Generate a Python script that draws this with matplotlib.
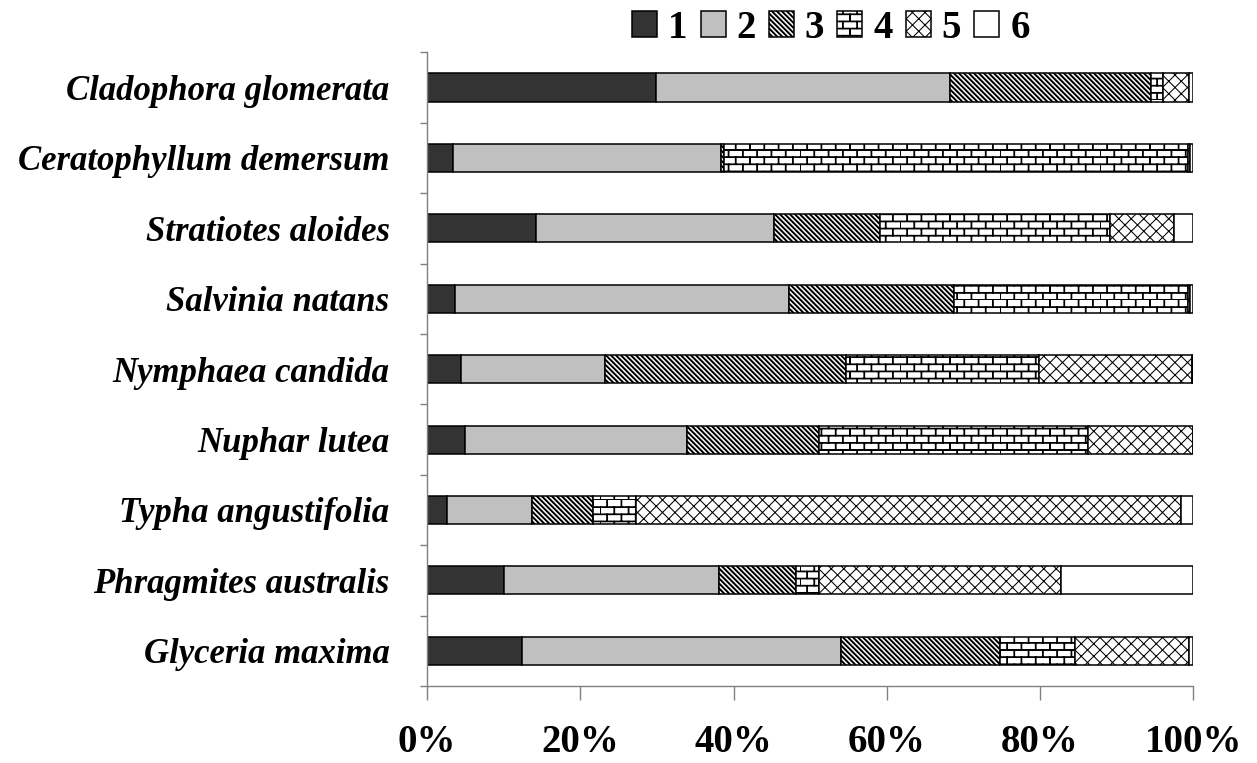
import warnings
import numpy as np
import matplotlib
matplotlib.use("Agg")
import matplotlib.pyplot as plt
import matplotlib.hatch as mhatch
from matplotlib.path import Path
from matplotlib.patches import Patch

warnings.filterwarnings("ignore")

species = [
    "Cladophora glomerata",
    "Ceratophyllum demersum",
    "Stratiotes aloides",
    "Salvinia natans",
    "Nymphaea candida",
    "Nuphar lutea",
    "Typha angustifolia",
    "Phragmites australis",
    "Glyceria maxima",
]
groups = ["1", "2", "3", "4", "5", "6"]

g1 = [29.9, 3.4, 14.2, 3.65, 4.4, 5.0, 2.6, 10.0, 12.35]
g2 = [38.35, 35.0, 31.1, 43.65, 18.8, 28.9, 11.1, 28.1, 41.65]
g3 = [26.25, 0.3, 13.8, 21.5, 31.5, 17.2, 7.9, 10.0, 20.8]
g4 = [1.6, 60.6, 30.0, 30.5, 25.2, 35.2, 5.7, 3.1, 9.8]
g5 = [3.4, 0.3, 8.4, 0.3, 19.9, 13.7, 71.05, 31.5, 14.8]
g6 = [0.5, 0.4, 2.5, 0.4, 0.2, 0.0, 1.65, 17.3, 0.6]
series = [g1, g2, g3, g4, g5, g6]

xticks = [0, 20, 40, 60, 80, 100]
xticklabels = ["0%", "20%", "40%", "60%", "80%", "100%"]

MOVETO, LINETO, CLOSEPOLY = Path.MOVETO, Path.LINETO, Path.CLOSEPOLY
RECT_CODES = [MOVETO, LINETO, LINETO, LINETO, CLOSEPOLY]


def _rect(x0, y0, x1, y1):
    return [(x0, y0), (x1, y0), (x1, y1), (x0, y1), (x0, y0)]


class BrickHatch(mhatch.HatchPatternBase):
    """Brick-wall hatch drawn as thin filled bars, selected by 'b'."""

    def __init__(self, hatch, density):
        on = "b" in hatch
        self.rows = 14 if on else 0
        self.cols = 7
        self.t = 0.007
        self.num_vertices = 5 * (self.rows + self.rows * self.cols)

    def set_vertices_and_codes(self, vertices, codes):
        k = 0
        t = self.t
        for i in range(self.rows):
            y0 = i / self.rows
            y1 = (i + 1) / self.rows
            vertices[k:k + 5] = _rect(-0.05, y0 - t / 2, 1.05, y0 + t / 2)
            codes[k:k + 5] = RECT_CODES
            k += 5
            off = 0.5 * (i % 2)
            for j in range(self.cols):
                x = (j + off) / self.cols
                vertices[k:k + 5] = _rect(x - t / 2, y0, x + t / 2, y1)
                codes[k:k + 5] = RECT_CODES
                k += 5


class StripeHatch(mhatch.HatchPatternBase):
    """Dense filled back-slash stripes, selected by 'd'."""

    def __init__(self, hatch, density):
        on = "d" in hatch
        self.n = 20
        self.w = 0.013
        self.ks = list(range(-1, 2 * self.n + 2)) if on else []
        self.num_vertices = 5 * len(self.ks)

    def set_vertices_and_codes(self, vertices, codes):
        for i, k in enumerate(self.ks):
            c = k / self.n
            x0 = c - 1.1
            x1 = c + 0.1
            pts = [(x0, c - x0), (x1, c - x1), (x1 + self.w, c - x1),
                   (x0 + self.w, c - x0), (x0, c - x0)]
            vertices[5 * i:5 * i + 5] = pts
            codes[5 * i:5 * i + 5] = RECT_CODES


class DiamondHatch(mhatch.HatchPatternBase):
    """Fine diagonal cross-hatch, selected by 'k'."""

    def __init__(self, hatch, density):
        on = "k" in hatch
        self.n = 8
        self.up = list(range(0, 2 * self.n + 1)) if on else []
        self.dn = list(range(-self.n, self.n + 1)) if on else []
        self.num_vertices = 2 * (len(self.up) + len(self.dn))

    def set_vertices_and_codes(self, vertices, codes):
        i = 0
        for k in self.up:
            c = k / self.n
            vertices[i] = (c - 1.1, 1.1)
            vertices[i + 1] = (c + 0.1, -0.1)
            codes[i] = MOVETO
            codes[i + 1] = LINETO
            i += 2
        for k in self.dn:
            c = k / self.n
            vertices[i] = (c - 0.1, -0.1)
            vertices[i + 1] = (c + 1.1, 1.1)
            codes[i] = MOVETO
            codes[i + 1] = LINETO
            i += 2


mhatch._hatch_types.extend([BrickHatch, StripeHatch, DiamondHatch])

plt.rcParams["hatch.linewidth"] = 0.75
plt.rcParams["font.family"] = ["Liberation Serif", "DejaVu Serif"]

colors = ["#333333", "#c0c0c0", "white", "white", "white", "white"]
hatches = [None, None, "d", "b", "k", None]

fig = plt.figure(figsize=(12.57, 7.63), dpi=100)
ax = fig.add_axes([0.3397, 0.1009, 0.6096, 0.8305])

ypos = np.arange(len(species))
left = np.zeros(len(species))
for vals, col, hat in zip(series, colors, hatches):
    vals = np.array(vals)
    ax.barh(ypos, vals, left=left, height=0.40, color=col, edgecolor="black",
            linewidth=1.1, hatch=hat, zorder=2)
    left += vals

ax.set_xlim(0, 100)
ax.set_ylim(len(species) - 0.5, -0.5)

ax.spines["top"].set_visible(False)
ax.spines["right"].set_visible(False)
for s in ("left", "bottom"):
    ax.spines[s].set_color("#808080")
    ax.spines[s].set_linewidth(1.0)

ax.set_yticks(np.arange(-0.5, len(species), 1.0))
ax.set_yticklabels([])
ax.set_yticks(ypos, minor=True)
ax.set_yticklabels(species, minor=True, fontsize=25, fontweight="bold",
                   fontstyle="italic")
ax.tick_params(axis="y", which="major", length=5, width=1.0, color="#808080",
               direction="out")
ax.tick_params(axis="y", which="minor", length=0, pad=27)

ax.set_xticks(xticks)
ax.set_xticklabels(xticklabels, fontsize=28, fontweight="bold")
ax.tick_params(axis="x", length=10, width=1.0, color="#808080", pad=17)

handles = [Patch(facecolor=c, edgecolor="black", hatch=h, linewidth=1.1)
           for c, h in zip(colors, hatches)]
fig.legend(handles, groups, loc="center", bbox_to_anchor=(0.661, 0.963),
           ncol=6, frameon=False, prop={"size": 28, "weight": "bold"},
           handlelength=0.64, handleheight=0.64, handletextpad=0.28,
           columnspacing=0.34, borderaxespad=0)

fig.savefig("out.png", dpi=100)
